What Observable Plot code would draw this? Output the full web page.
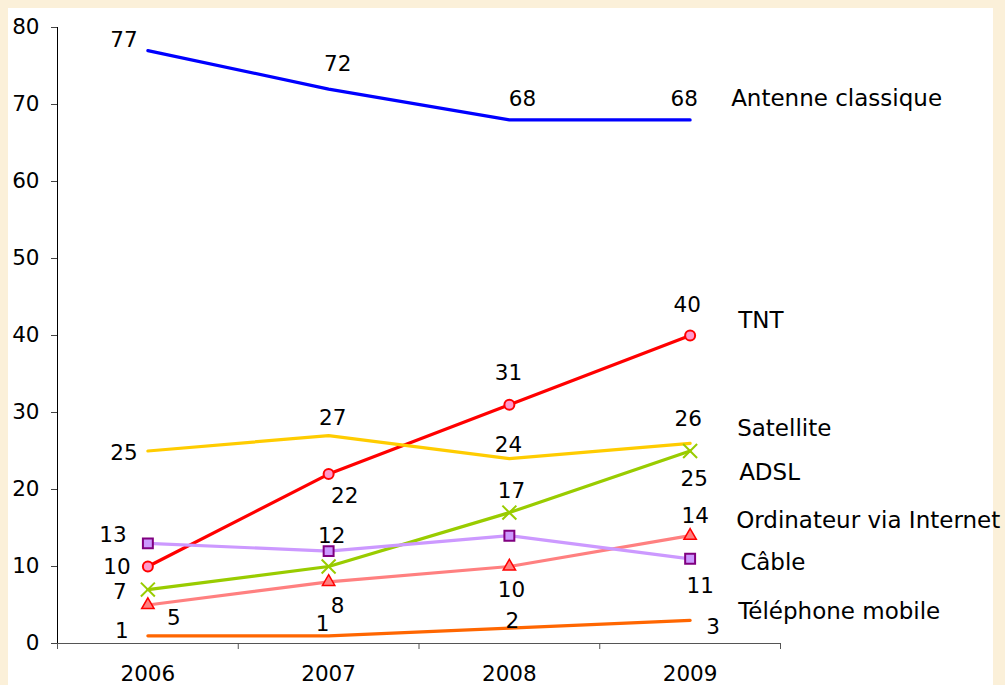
<!DOCTYPE html>
<html><head><meta charset="utf-8">
<script src="https://cdn.jsdelivr.net/npm/d3@7"></script>
<script src="https://cdn.jsdelivr.net/npm/@observablehq/plot@0.6"></script>
<style>
html,body{margin:0;padding:0;background:#FBF0D9;width:1005px;height:685px;overflow:hidden;}
#panel{position:absolute;left:8px;top:8px;width:985px;height:677px;background:#fff;}
#panel svg{overflow:visible;}
</style></head><body><div id="panel"></div>
<script>
// ---- data ----
const years = [2006, 2007, 2008, 2009];
const antenne = [77, 72, 68, 68];
const tnt = [10, 22, 31, 40];
const satellite = [25, 27, 24, 26];
const adsl = [7, 10, 17, 25];
const ordinateur = [5, 8, 10, 14];
const cable = [13, 12, 14, 11];
const mobile = [1, 1, 2, 3];
const seriesNames = ["Antenne classique", "TNT", "Satellite", "ADSL", "Ordinateur via Internet", "Câble", "Téléphone mobile"];
const seriesValues = [antenne, tnt, satellite, adsl, ordinateur, cable, mobile];
const yTicks = [0, 10, 20, 30, 40, 50, 60, 70, 80];
const xBoundaries = [2005.5, 2006.5, 2007.5, 2008.5, 2009.5];

// ---- styles (colours, markers, label offsets in px) ----
const colors = ["#0000FF", "#FF0000", "#FFCC00", "#99CC00", "#FF8080", "#CC99FF", "#FF6600"];
const labelOffsets = [
  [[-24, -10], [9, -25], [13, -21], [-6, -21]],
  [[-31, 1], [16, 22], [-1, -32], [-3, -30]],
  [[-24, 2], [4, -17], [-1, -14], [-2, -24]],
  [[-28, 3], null, [2, -21], [4, 28]],
  [[26, 13], [9, 24], [2, 24], [5, -20]],
  [[-35, -8], [3, -15], null, [10, 27]],
  [[-26, -5], [-6, -12], [3, -7], [23, 7]]
];
const nameOffsets = [[41, -21], [48, -15], [47, -15], [49, 22], [46, -15], [50, 4], [48, -9]];

const rows = [];
seriesNames.forEach((s, i) => years.forEach((y, j) => rows.push({series: s, si: i, yi: j, year: y, value: seriesValues[i][j]})));

const marks = [];
// axes
marks.push(Plot.ruleY([0], {x1: xBoundaries[0], x2: xBoundaries[xBoundaries.length - 1], stroke: "#555", strokeWidth: 1}));
marks.push(Plot.ruleX([xBoundaries[0]], {y1: 0, y2: 80, stroke: "#000", strokeWidth: 1}));
marks.push(Plot.axisX({ticks: xBoundaries, tickFormat: () => "", tickSize: 6, stroke: "#555"}));
marks.push(Plot.axisX({ticks: years, tickFormat: d => String(d), tickSize: 0, tickPadding: 22, fontSize: 21.5, fill: "#000"}));
marks.push(Plot.axisY({ticks: yTicks, tickSize: 6, tickPadding: 12, fontSize: 21.5, fill: "#000", stroke: "#444"}));

// lines
seriesNames.forEach((s, i) => {
  marks.push(Plot.line(rows.filter(d => d.si === i), {x: "year", y: "value", stroke: colors[i], strokeWidth: 3.2, strokeLinejoin: "round"}));
});
// markers
marks.push(Plot.dot(rows.filter(d => d.si === 1), {x: "year", y: "value", r: 5, fill: "#FF99CC", stroke: "#FF0000", strokeWidth: 2}));
marks.push(Plot.dot(rows.filter(d => d.si === 3), {x: "year", y: "value", symbol: "times", r: 6.4, stroke: "#99CC00", strokeWidth: 2}));
marks.push(Plot.dot(rows.filter(d => d.si === 4), {x: "year", y: "value", symbol: "triangle", r: 4.6, fill: "#FF8080", stroke: "#FF0000", strokeWidth: 1.5}));
marks.push(Plot.dot(rows.filter(d => d.si === 5), {x: "year", y: "value", symbol: "square", r: 5.6, fill: "#CC99FF", stroke: "#800080", strokeWidth: 2}));

// value labels
rows.forEach(d => {
  const off = labelOffsets[d.si][d.yi];
  if (!off) return;
  marks.push(Plot.text([d], {x: "year", y: "value", text: r => String(r.value), dx: off[0], dy: off[1], fontSize: 21.5, fill: "#000"}));
});
// series names
seriesNames.forEach((s, i) => {
  const last = rows.find(d => d.si === i && d.yi === years.length - 1);
  marks.push(Plot.text([last], {x: "year", y: "value", text: () => s, dx: nameOffsets[i][0], dy: nameOffsets[i][1], textAnchor: "start", fontSize: 23, fill: "#000"}));
});

const chart = Plot.plot({
  width: 985,
  height: 677,
  marginLeft: 49,
  marginRight: 213,
  marginTop: 19,
  marginBottom: 42,
  style: {fontFamily: "DejaVu Sans, Verdana, sans-serif", fontSize: "21px", background: "transparent", color: "#000"},
  x: {type: "linear", domain: [xBoundaries[0], xBoundaries[xBoundaries.length - 1]], label: null},
  y: {domain: [0, 80], label: null},
  marks
});
document.getElementById("panel").appendChild(chart);
</script>
</body></html>
